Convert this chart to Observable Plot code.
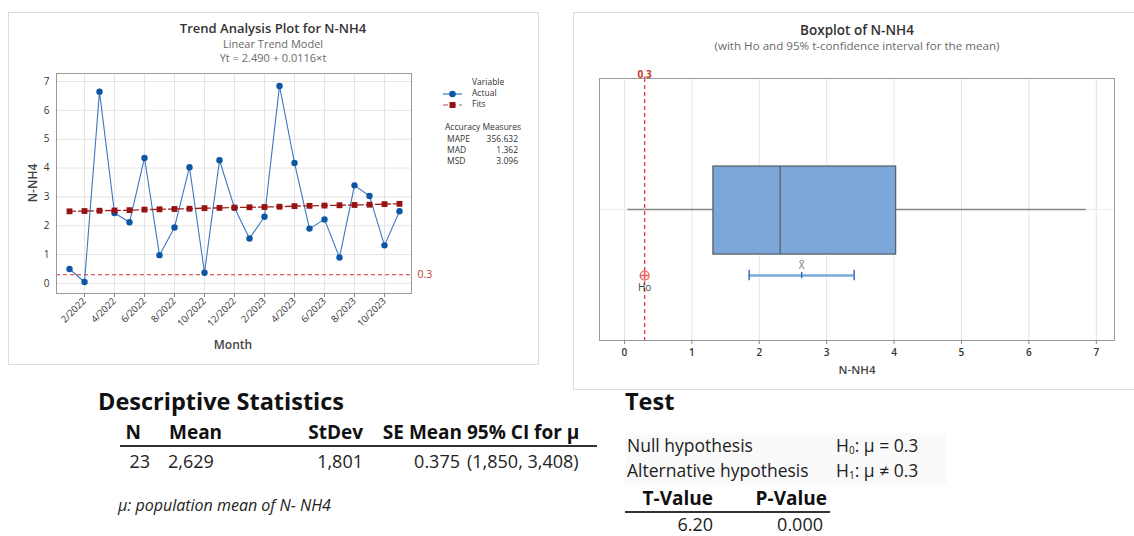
<!DOCTYPE html>
<html>
<head>
<meta charset="utf-8">
<script src="https://cdn.jsdelivr.net/npm/d3@7"></script>
<script src="https://cdn.jsdelivr.net/npm/@observablehq/plot@0.6"></script>
<style>
  html, body { margin: 0; padding: 0; background: #fff; }
  body { width: 1134px; height: 536px; position: relative; overflow: hidden; font-family: "Open Sans", "Noto Sans", sans-serif; color: #222; }
  .abs { position: absolute; white-space: nowrap; line-height: 1; }
  .panel { position: absolute; border: 1px solid #dcdcdc; box-sizing: border-box; }
  svg { position: absolute; overflow: visible; }
</style>
</head>
<body>
<script>
// ---------------- DATA ----------------
const months = ["1/2022","2/2022","3/2022","4/2022","5/2022","6/2022","7/2022","8/2022","9/2022","10/2022","11/2022","12/2022",
                "1/2023","2/2023","3/2023","4/2023","5/2023","6/2023","7/2023","8/2023","9/2023","10/2023","11/2023"];
const actual = [0.50, 0.05, 6.65, 2.44, 2.12, 4.35, 0.98, 1.94, 4.03, 0.37, 4.27, 2.62,
                1.56, 2.31, 6.85, 4.18, 1.90, 2.22, 0.90, 3.40, 3.03, 1.32, 2.50];
const fits = [2.50, 2.51, 2.52, 2.53, 2.54, 2.56, 2.57, 2.58, 2.59, 2.61, 2.62, 2.63,
              2.64, 2.65, 2.66, 2.68, 2.69, 2.70, 2.71, 2.72, 2.73, 2.75, 2.76];
const monthTicks = months.filter((d, i) => i % 2 === 1);
const yTicks = [0, 1, 2, 3, 4, 5, 6, 7];
const targetValue = 0.3;
const meanValue = 2.629;
const ciBounds = [1.850, 3.408];
const accuracyNames = ["MAPE", "MAD", "MSD"];
const accuracyValues = ["356.632", "1.362", "3.096"];
const trendTitle = "Trend Analysis Plot for N-NH4";
const trendSubtitle = ["Linear Trend Model", "Yt = 2.490 + 0.0116×t"];
const boxTitle = "Boxplot of N-NH4";
const boxSubtitle = "(with Ho and 95% t-confidence interval for the mean)";
const descHeaders = ["N", "Mean", "StDev", "SE Mean", "95% CI for μ"];
const descValues = ["23", "2,629", "1,801", "0.375", "(1,850, 3,408)"];
const descNote = "μ: population mean of N- NH4";
const testLabels = ["Null hypothesis", "Alternative hypothesis"];
const testHyp = [["H", "0", ": μ = 0.3"], ["H", "1", ": μ ≠ 0.3"]];
const testHeaders = ["T-Value", "P-Value"];
const testValues = ["6.20", "0.000"];

// ---------------- HELPERS ----------------
const FONT = '"Open Sans", "Noto Sans", sans-serif';
function put(html, x, y, o = {}) {
  const d = document.createElement("div");
  d.className = "abs";
  d.innerHTML = html;
  const size = o.size || 12;
  d.style.fontSize = size + "px";
  d.style.fontWeight = o.weight || 400;
  d.style.color = o.color || "#222";
  if (o.italic) d.style.fontStyle = "italic";
  d.style.left = x + "px";
  d.style.top = y + "px";
  const tx = o.anchor === "end" ? "-100%" : o.anchor === "middle" ? "-50%" : "0";
  d.style.transform = `translate(${tx}, -55%)`;
  if (o.rotate) { d.style.transform = `translate(-50%, -50%) rotate(${o.rotate}deg)`; }
  document.body.appendChild(d);
  return d;
}
function panel(x, y, w, h) {
  const d = document.createElement("div");
  d.className = "panel";
  Object.assign(d.style, { left: x + "px", top: y + "px", width: w + "px", height: h + "px" });
  document.body.appendChild(d);
}
function rule(x, y, w, h, c) {
  const d = document.createElement("div");
  Object.assign(d.style, { position: "absolute", left: x + "px", top: y + "px", width: w + "px", height: h + "px", background: c });
  document.body.appendChild(d);
}

// ---------------- LEFT PANEL: TREND ----------------
panel(8, 12, 531, 353);
put(trendTitle, 273, 29, { size: 13, weight: 600, color: "#333", anchor: "middle" });
put(trendSubtitle[0], 273, 44, { size: 11, color: "#6a6a6a", anchor: "middle" });
put(trendSubtitle[1], 273, 58, { size: 11, color: "#6a6a6a", anchor: "middle" });

const series = months.map((m, i) => ({ month: m, actual: actual[i], fit: fits[i] }));
const trend = Plot.plot({
  width: 540, height: 300,
  marginLeft: 56, marginRight: 129, marginTop: 13, marginBottom: 67,
  style: { fontFamily: FONT, background: "transparent", overflow: "visible" },
  x: { type: "point", domain: months, padding: 0.49, label: null },
  y: { domain: [-0.35, 7.28], label: null },
  marks: [
    Plot.gridY(yTicks, { stroke: "#e4e4e4", strokeOpacity: 1 }),
    Plot.gridX(monthTicks, { stroke: "#e4e4e4", strokeOpacity: 1 }),
    Plot.ruleY([targetValue], { stroke: "#e32d2d", strokeWidth: 1, strokeDasharray: "4,3" }),
    Plot.text([targetValue], { y: d => d, frameAnchor: "right", dx: 6, textAnchor: "start", text: d => String(d), fill: "#c0392b", fontSize: 10.5 }),
    Plot.line(series, { x: "month", y: "actual", stroke: "#3b78c2", strokeWidth: 1.1 }),
    Plot.dot(series, { x: "month", y: "actual", r: 3.2, fill: "#0b57a6", stroke: "none" }),
    Plot.line(series, { x: "month", y: "fit", stroke: "#a11f1f", strokeWidth: 1.3, strokeDasharray: "6,3" }),
    Plot.dot(series, { x: "month", y: "fit", symbol: "square", r: 3.3, fill: "#951313", stroke: "none" }),
    Plot.frame({ stroke: "#9a9a9a" }),
    Plot.axisY(yTicks, { tickSize: 0, tickPadding: 7, fontSize: 10, fill: "#333", label: null }),
    Plot.axisX(monthTicks, { tickSize: 4, stroke: "#888", tickRotate: -45, tickPadding: 2, fontSize: 9.5, fill: "#333", label: null })
  ]
});
trend.style.left = "0px"; trend.style.top = "60px";
document.body.appendChild(trend);
put("Month", 233, 346, { size: 12, weight: 600, color: "#444", anchor: "middle" });
put("N-NH4", 33, 183, { size: 12, weight: 600, color: "#444", rotate: -90 });

// legend
put("Variable", 472, 83, { size: 8.5, color: "#333" });
put("Actual", 472, 94, { size: 8.5, color: "#333" });
put("Fits", 472, 105, { size: 8.5, color: "#333" });
const lg = document.createElementNS("http://www.w3.org/2000/svg", "svg");
lg.setAttribute("width", 30); lg.setAttribute("height", 30);
lg.style.left = "440px"; lg.style.top = "86px";
lg.innerHTML = `<line x1="3" x2="22" y1="8" y2="8" stroke="#3b78c2" stroke-width="1.2"/>
  <circle cx="12.5" cy="8" r="3.3" fill="#0b57a6"/>
  <line x1="3" x2="22" y1="19" y2="19" stroke="#d08a8a" stroke-width="1.5" stroke-dasharray="5,3"/>
  <rect x="9.5" y="16" width="6" height="6" fill="#951313"/>`;
document.body.appendChild(lg);
put("Accuracy Measures", 445, 128, { size: 8.5, color: "#333" });
accuracyNames.forEach((n, i) => {
  put(n, 447, 140 + i * 11, { size: 8.5, color: "#333" });
  put(accuracyValues[i], 518, 140 + i * 11, { size: 8.5, color: "#333", anchor: "end" });
});

// ---------------- RIGHT PANEL: BOXPLOT ----------------
panel(573, 12, 600, 378);
put(boxTitle, 857, 31, { size: 13.5, weight: 600, color: "#333", anchor: "middle" });
put(boxSubtitle, 857, 46, { size: 11.6, color: "#6a6a6a", anchor: "middle" });

function mtbQuantile(sorted, p) {
  const n = sorted.length, pos = (n + 1) * p, lo = Math.floor(pos), f = pos - lo;
  if (lo < 1) return sorted[0];
  if (lo >= n) return sorted[n - 1];
  return sorted[lo - 1] + f * (sorted[lo] - sorted[lo - 1]);
}
const sorted = actual.slice().sort((a, b) => a - b);
const q1 = mtbQuantile(sorted, 0.25), med = mtbQuantile(sorted, 0.5), q3 = mtbQuantile(sorted, 0.75);
const iqr = q3 - q1;
const wLo = d3.min(sorted.filter(v => v >= q1 - 1.5 * iqr));
const wHi = d3.max(sorted.filter(v => v <= q3 + 1.5 * iqr));
// vertical layout (fractions of the plot frame height)
const yMid = 0.5, yBoxLo = 0.328, yBoxHi = 0.664, yCI = 0.248, yHoLabel = 0.2, yXbar = 0.284, cap = 0.02;

const box = Plot.plot({
  width: 561, height: 325,
  marginLeft: 26, marginRight: 20, marginTop: 18, marginBottom: 45,
  style: { fontFamily: FONT, background: "transparent", overflow: "visible" },
  x: { domain: [-0.37, 7.27], label: null },
  y: { domain: [0, 1], label: null, axis: null },
  marks: [
    Plot.gridX(yTicks, { stroke: "#e4e4e4", strokeOpacity: 1 }),
    Plot.ruleY([yMid], { stroke: "#ececec" }),
    Plot.ruleY([{ a: wLo, b: q1 }, { a: q3, b: wHi }], { y: () => yMid, x1: "a", x2: "b", stroke: "#858585", strokeWidth: 1.6 }),
    Plot.rect([{ a: q1, b: q3 }], { x1: "a", x2: "b", y1: () => yBoxLo, y2: () => yBoxHi, fill: "#7ca7d8", stroke: "#58626e", strokeWidth: 1.3 }),
    Plot.ruleX([med], { y1: yBoxLo, y2: yBoxHi, stroke: "#58626e", strokeWidth: 1.3 }),
    Plot.ruleX([targetValue], { stroke: "#e32d2d", strokeWidth: 1.2, strokeDasharray: "4,3" }),
    Plot.text([targetValue], { x: d => d, frameAnchor: "top", lineAnchor: "bottom", dy: -1, text: d => String(d), fill: "#c0392b", fontSize: 10, fontWeight: 700 }),
    Plot.ruleY([{ a: ciBounds[0], b: ciBounds[1] }], { y: () => yCI, x1: "a", x2: "b", stroke: "#7aa8dc", strokeWidth: 2.4 }),
    Plot.ruleX(ciBounds, { y1: yCI - cap, y2: yCI + cap, stroke: "#2f68b0", strokeWidth: 1.4 }),
    Plot.ruleX([meanValue], { y1: yCI - cap * 0.6, y2: yCI + cap * 0.6, stroke: "#2f68b0", strokeWidth: 1.4 }),
    Plot.text([meanValue], { x: d => d, y: () => yXbar, text: () => "X\u0304", fill: "#777", fontSize: 10 }),
    Plot.dot([targetValue], { x: d => d, y: () => yCI, r: 4.5, stroke: "#e65a5a", fill: "#f6c8c8", fillOpacity: 0.5, strokeWidth: 1.2 }),
    Plot.ruleX([targetValue], { y1: yCI - 0.017, y2: yCI + 0.017, stroke: "#e65a5a", strokeWidth: 1.2 }),
    Plot.ruleY([targetValue], { y: () => yCI, x1: d => d - 0.066, x2: d => d + 0.066, stroke: "#e65a5a", strokeWidth: 1.2 }),
    Plot.text([targetValue], { x: d => d, y: () => yHoLabel, text: () => "Ho", fill: "#444", fontSize: 10 }),
    Plot.frame({ stroke: "#9a9a9a" }),
    Plot.axisX(yTicks, { tickSize: 4, stroke: "#888", tickPadding: 4, fontSize: 10, fontWeight: 600, fill: "#333", label: null })
  ]
});
box.style.left = "573px"; box.style.top = "60px";
document.body.appendChild(box);
put("N-NH4", 857, 370, { size: 11.5, weight: 600, color: "#444", anchor: "middle" });

// ---------------- DESCRIPTIVE STATISTICS ----------------
put("Descriptive Statistics", 98, 403, { size: 23.5, weight: 700, color: "#111" });
const hdrPos = [[141, "end"], [169, "start"], [363, "end"], [462, "end"], [467, "start"]];
const valPos = [[150, "end"], [168, "start"], [363, "end"], [460, "end"], [467, "start"]];
descHeaders.forEach((h, i) => put(h, hdrPos[i][0], 433, { size: 19, weight: 700, color: "#111", anchor: hdrPos[i][1] }));
descValues.forEach((v, i) => put(v, valPos[i][0], 462, { size: 18, color: "#222", anchor: valPos[i][1] }));
rule(120, 445, 477, 2, "#333");
put(descNote, 118, 506, { size: 16, italic: true, color: "#222" });

// ---------------- TEST ----------------
put("Test", 625, 403, { size: 23.5, weight: 700, color: "#111" });
rule(625, 433, 322, 52, "#fafafa");
testLabels.forEach((t, i) => {
  put(t, 627, 447 + i * 25, { size: 17.5, color: "#222" });
  const h = testHyp[i];
  put(`${h[0]}<sub style="font-size:10px;vertical-align:-2px">${h[1]}</sub>${h[2]}`, 836, 447 + i * 25, { size: 17.5, color: "#222" });
});
put(testHeaders[0], 713, 499, { size: 19, weight: 700, color: "#111", anchor: "end" });
put(testHeaders[1], 827, 499, { size: 19, weight: 700, color: "#111", anchor: "end" });
rule(625, 511, 205, 1.5, "#333");
put(testValues[0], 713, 525, { size: 18, color: "#222", anchor: "end" });
put(testValues[1], 823, 525, { size: 18, color: "#222", anchor: "end" });
</script>
</body>
</html>
